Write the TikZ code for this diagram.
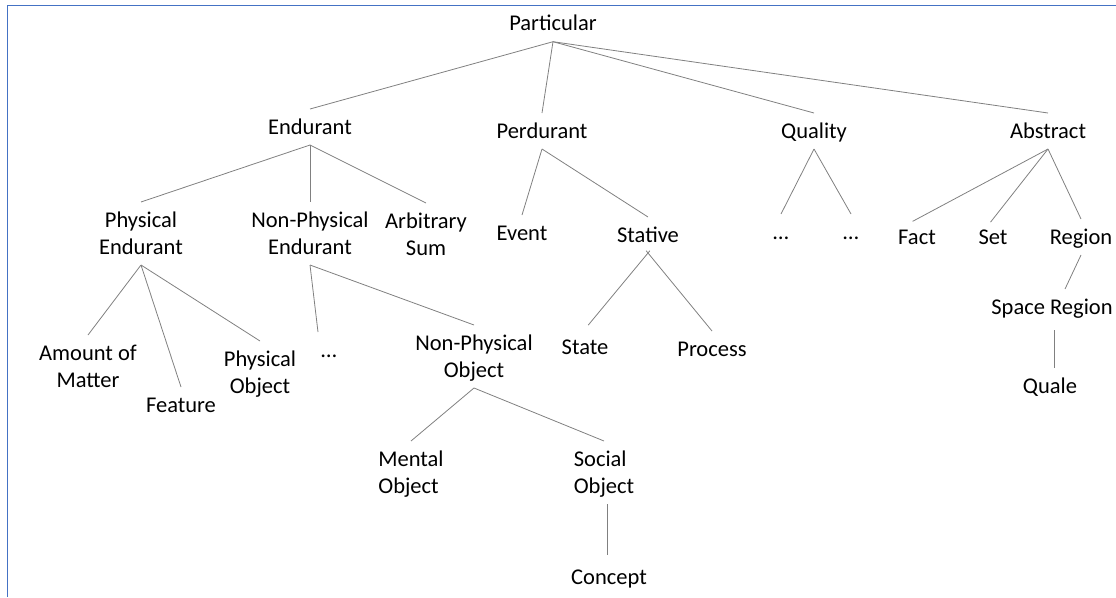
\documentclass[tikz,border=0pt]{standalone}
\usepackage{fontspec}
\setmainfont{Carlito}
\usepackage{tikz}

\definecolor{frameblue}{RGB}{68,114,196}
\definecolor{linkgray}{RGB}{128,128,128}
\newcommand{\capstrut}{\rule{0pt}{25pt}}
\newcommand{\footstrut}{\rule[-11pt]{0pt}{11pt}}
\newcommand{\lbl}[1]{\capstrut#1\footstrut}

\begin{document}
\begin{tikzpicture}[x=1pt,y=-1pt,
  cat/.style={anchor=north,inner sep=0pt,outer sep=0pt,align=center,
    font=\fontsize{22.5}{27}\selectfont},
  conn/.style={draw=linkgray,line width=0.8pt}]
\useasboundingbox (0,0) rectangle (1116,597);
\draw[frameblue,line width=1pt] (7.3,597) -- (7.3,5.7) -- (1116,5.7);

\node [cat] (par) at (553,5.7) {\lbl{Particular}};
\node [cat] (endu) at (310,109) {\lbl{Endurant}};
\node [cat] (perd) at (542,113) {\lbl{Perdurant}};
\node [cat] (qual) at (814,113) {\lbl{Quality}};
\node [cat] (abst) at (1048,113) {\lbl{Abstract}};

\node [cat] (phend) at (141,202) {\lbl{Physical\\Endurant}};
\node [cat] (npend) at (310,202) {\lbl{Non-Physical\\Endurant}};
\node [cat] (arbsum) at (426,203) {\lbl{Arbitrary\\Sum}};
\node [cat] (event) at (522,215) {\lbl{Event}};
\node [cat] (stat) at (648,217) {\lbl{Stative}};
\node [cat] (qdots1) at (781,214) {\lbl{…}};
\node [cat] (qdots2) at (851,214) {\lbl{…}};
\node [cat] (fact) at (917,219) {\lbl{Fact}};
\node [cat] (set) at (993,219) {\lbl{Set}};
\node [cat] (region) at (1081,219) {\lbl{Region}};
\node [cat] (spreg) at (1052,289) {\lbl{Space Region}};
\node [cat] (quale) at (1050,368) {\lbl{Quale}};

\node [cat] (amount) at (88,335) {\lbl{Amount of\\Matter}};
\node [cat] (feat) at (181,387) {\lbl{Feature}};
\node [cat] (phobj) at (260,341) {\lbl{Physical\\Object}};
\node [cat] (npdots) at (329,332) {\lbl{…}};
\node [cat] (npobj) at (474,325) {\lbl{Non-Physical\\Object}};
\node [cat] (state) at (585,329) {\lbl{State}};
\node [cat] (proc) at (712,331) {\lbl{Process}};
\node [cat,align=left] (mental) at (411,441) {\lbl{Mental\\Object}};
\node [cat,align=left] (social) at (604,441) {\lbl{Social\\Object}};
\node [cat] (concept) at (609,559) {\lbl{Concept}};

\draw[conn] (par.south) -- (endu.north);
\draw[conn] (par.south) -- (perd.north);
\draw[conn] (par.south) -- (qual.north);
\draw[conn] (par.south) -- (abst.north);

\draw[conn] (endu.south) -- (phend.north);
\draw[conn] (endu.south) -- (npend.north);
\draw[conn] (endu.south) -- (arbsum.north);
\draw[conn] (perd.south) -- (event.north);
\draw[conn] (perd.south) -- (stat.north);
\draw[conn] (qual.south) -- (qdots1.north);
\draw[conn] (qual.south) -- (qdots2.north);
\draw[conn,shorten >=-5pt] (abst.south) -- (fact.north);
\draw[conn,shorten >=-4pt] (abst.south) -- (set.north);
\draw[conn] (abst.south) -- (region.north);

\draw[conn] (phend.south) -- (amount.north);
\draw[conn] (phend.south) -- (feat.north);
\draw[conn] (phend.south) -- (phobj.north);
\draw[conn] (npend.south) -- ([xshift=-11pt]npdots.north);
\draw[conn] (npend.south) -- (npobj.north);
\draw[conn,shorten <=-3pt,shorten >=5pt] (stat.south) -- (state.north);
\draw[conn,shorten <=-3pt] (stat.south) -- (proc.north);
\draw[conn] (region.south) -- ([xshift=13pt]spreg.north);
\draw[conn,shorten <=5pt] ([xshift=2pt]spreg.south) -- ([xshift=4pt]quale.north);

\draw[conn] (npobj.south) -- (mental.north);
\draw[conn] (npobj.south) -- (social.north);
\draw[conn,shorten >=4pt] ([xshift=3pt]social.south) -- ([xshift=-2pt]concept.north);
\end{tikzpicture}
\end{document}
